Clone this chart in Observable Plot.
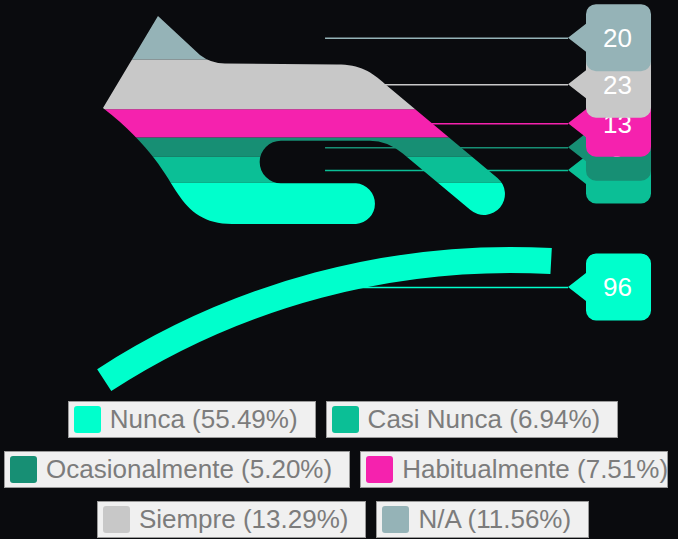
<!DOCTYPE html>
<html>
<head>
<meta charset="utf-8">
<script src="https://cdn.jsdelivr.net/npm/d3@7"></script>
<script src="https://cdn.jsdelivr.net/npm/@observablehq/plot@0.6"></script>
<style>
html,body{margin:0;padding:0;background:#0a0b0e;}
body{width:678px;height:539px;overflow:hidden;font-family:"Liberation Sans",Arial,sans-serif;}
#chart svg{display:block;}
#legend{margin-top:5px;width:686px;}
.row{display:flex;justify-content:center;gap:10px;height:37px;margin-bottom:13px;width:686px;}
.row.tight{justify-content:flex-start;padding-left:4px;width:664px;}
.item{box-sizing:border-box;height:37px;display:flex;align-items:center;background:#f0f0f0;border:1px solid #9a9a9a;padding:0 17px 0 5px;white-space:nowrap;overflow:hidden;flex-shrink:0;color:#7c7c7c;font-size:26px;}
.row.tight .item:last-child{flex-shrink:1;min-width:0;}
.sw{width:27px;height:27px;border-radius:3px;margin-right:9px;flex:none;}
</style>
</head>
<body>
<div id="chart"></div>
<div id="legend"></div>
<script>
// ---- data ----
const categories = ["Nunca", "Casi Nunca", "Ocasionalmente", "Habitualmente", "Siempre", "N/A"];
const values = [96, 12, 9, 13, 23, 20];
const legendRows = [[0, 1], [2, 3], [4, 5]];

// ---- style ----
const palette = ["#00ffcc", "#0bbf96", "#178f74", "#f522ae", "#c8c8c8", "#95b3b7"];

// ---- derived table ----
const total = d3.sum(values);
const ends = Array.from(d3.cumsum(values));
const rows = categories.map((c, i) => ({
  category: c,
  value: values[i],
  y1: ends[i] - values[i],
  y2: ends[i],
  mid: ends[i] - values[i] / 2,
  pct: (values[i] / total * 100).toFixed(2) + "%"
}));

// ---- layout (x in 0..100 units of the frame) ----
const W = 678, H = 396;
const LAYOUT = {tipX: 23.3, leaderX1: 47.94, leaderX2: 83.78, boxX1: 86.43, boxX2: 96.02, arcCx: 75.32};
// pictorial symbol (design units: a stack 375 tall)
const SYMBOL = "M0,0 L42,39 Q53,47.5 67,47.5 L179,48.5 C202,48.5 214,56 227,68 L339.5,161.9 A21,21 0 0 1 312.5,194.1 L244.8,137.5 Q229.5,124.7 212,124.7 L123,124.7 A21.3,21.3 0 0 0 123,167.3 L198,167.3 A20.4,20.4 0 0 1 198,208 L74,208 C47,208 32,196 20,178 C8,160 -6,130 -55,92 Z";
const SYMBOL_SPAN = 375;
const angle = d3.scaleLinear().domain([0, total]).range([0, 64.9 * Math.PI / 180]);

const colorOf = (scales, c) => scales.color ? scales.color(c) : palette[categories.indexOf(c)];

function silhouetteClip(index, scales) {
  const {x, y} = scales;
  const s = (y(0) - y(total)) / SYMBOL_SPAN;
  const defs = d3.create("svg:defs");
  defs.append("clipPath").attr("id", "silhouette")
    .append("path").attr("d", SYMBOL)
    .attr("transform", `translate(${x(LAYOUT.tipX)},${y(total)}) scale(${s})`);
  return defs.node();
}

function nuncaArc(index, scales) {
  const {x, y} = scales;
  const s = (y(0) - y(total)) / SYMBOL_SPAN;
  const d = rows[0];
  const end = 3.1 * Math.PI / 180;
  const path = d3.arc()({innerRadius: 735 * s, outerRadius: 761 * s, startAngle: end - angle(d.value), endAngle: end});
  return d3.create("svg:path").attr("d", path)
    .attr("transform", `translate(${x(LAYOUT.arcCx)},${y(0) + 617 * s})`)
    .attr("fill", colorOf(scales, d.category)).node();
}

function callouts(index, scales) {
  const {x, y} = scales;
  const g = d3.create("svg:g");
  const bx1 = x(LAYOUT.boxX1), bx2 = x(LAYOUT.boxX2), tip = x(LAYOUT.leaderX2);
  const hh = 33.5, r = 10, ph = 14;
  for (const d of rows) {
    const cy = y(d.mid);
    const p = d3.path();
    p.moveTo(bx1 + r, cy - hh);
    p.lineTo(bx2 - r, cy - hh);
    p.arcTo(bx2, cy - hh, bx2, cy - hh + r, r);
    p.lineTo(bx2, cy + hh - r);
    p.arcTo(bx2, cy + hh, bx2 - r, cy + hh, r);
    p.lineTo(bx1 + r, cy + hh);
    p.arcTo(bx1, cy + hh, bx1, cy + hh - r, r);
    p.lineTo(bx1, cy + ph);
    p.lineTo(tip, cy);
    p.lineTo(bx1, cy - ph);
    p.lineTo(bx1, cy - hh + r);
    p.arcTo(bx1, cy - hh, bx1 + r, cy - hh, r);
    p.closePath();
    g.append("path").attr("d", p.toString()).attr("fill", colorOf(scales, d.category));
    g.append("text").attr("x", (bx1 + bx2) / 2 - 1).attr("y", cy).attr("dy", "0.36em")
      .attr("text-anchor", "middle").attr("fill", "#ffffff")
      .attr("font-size", 26).attr("font-family", "Liberation Sans, Arial, sans-serif")
      .text(d.value);
  }
  return g.node();
}

const chart = Plot.plot({
  width: W, height: H,
  marginTop: 16, marginBottom: 5, marginLeft: 0, marginRight: 0,
  style: {background: "#0a0b0e", overflow: "visible"},
  x: {domain: [0, 100], axis: null},
  y: {domain: [0, total], axis: null},
  color: {domain: categories, range: palette},
  marks: [
    silhouetteClip,
    Plot.ruleY(rows, {y: "mid", x1: LAYOUT.leaderX1, x2: LAYOUT.leaderX2, stroke: "category", strokeWidth: 1.5}),
    Plot.rect(rows, {x1: 0, x2: 100, y1: "y1", y2: "y2", fill: "category"}),
    nuncaArc,
    callouts
  ]
});
d3.select(chart).select('g[aria-label="rect"]').attr("clip-path", "url(#silhouette)");
document.getElementById("chart").appendChild(chart);

// ---- legend ----
const legend = d3.select("#legend");
legendRows.forEach((idx, ri) => {
  const row = legend.append("div").attr("class", ri === 1 ? "row tight" : "row");
  idx.forEach(i => {
    const item = row.append("div").attr("class", "item");
    item.append("div").attr("class", "sw").style("background", palette[i]);
    item.append("span").text(`${rows[i].category} (${rows[i].pct})`);
  });
});
</script>
</body>
</html>
